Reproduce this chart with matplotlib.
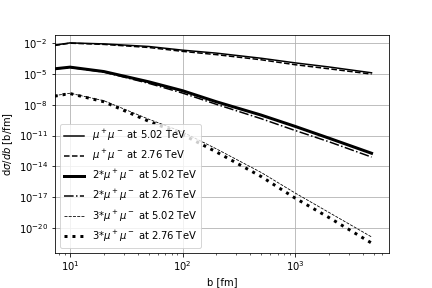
import numpy as np
import matplotlib
matplotlib.use("Agg")
import matplotlib.pyplot as plt

# impact parameter [fm]
b = np.array([7.3, 10, 20, 50, 100, 200, 500, 1000, 2000, 4800])

# log10 of dsigma/db [b/fm]
mm_502 = np.array([-2.17, -1.95, -2.05, -2.3, -2.66, -2.95, -3.45, -3.9, -4.3, -4.87])
mm_276 = np.array([-2.2, -1.98, -2.1, -2.4, -2.78, -3.1, -3.6, -4.08, -4.48, -5.0])
mm2_502 = np.array([-4.48, -4.32, -4.75, -5.75, -6.62, -7.7, -9.0, -10.1, -11.25, -12.73])
mm2_276 = np.array([-4.5, -4.35, -4.8, -5.9, -6.85, -7.95, -9.35, -10.5, -11.6, -13.1])
mm3_502 = np.array([-7.1, -6.87, -7.6, -9.4, -10.65, -12.3, -14.6, -16.6, -18.5, -20.9])
mm3_276 = np.array([-7.15, -6.9, -7.7, -9.6, -10.9, -12.6, -15.0, -17.1, -19.0, -21.5])

fig = plt.figure(figsize=(6, 4), dpi=72)
ax = fig.add_axes([0.1266, 0.1226, 0.7745, 0.7559])

ax.plot(b, 10**mm_502, "k-", lw=1.5, label=r"$\mu^+\mu^-$ at 5.02 TeV")
ax.plot(b, 10**mm_276, "k--", lw=1.5, label=r"$\mu^+\mu^-$ at 2.76 TeV")
ax.plot(b, 10**mm2_502, "k-", lw=3, label=r"2*$\mu^+\mu^-$ at 5.02 TeV")
ax.plot(b, 10**mm2_276, "k-.", lw=1.5, label=r"2*$\mu^+\mu^-$ at 2.76 TeV")
ax.plot(b, 10**mm3_502, "k--", lw=0.8, label=r"3*$\mu^+\mu^-$ at 5.02 TeV")
ax.plot(b, 10**mm3_276, "k:", lw=3, label=r"3*$\mu^+\mu^-$ at 2.76 TeV")

ax.set_xscale("log")
ax.set_yscale("log")
ax.set_xlim(7.3, 6900)
ax.set_ylim(10**-22.44, 10**-1.18)
ax.grid(True)
ax.set_xlabel("b [fm]")
ax.set_ylabel(r"d$\sigma/db$ [b/fm]")
ax.legend(loc="lower left")

fig.savefig("out.png", dpi=72)
